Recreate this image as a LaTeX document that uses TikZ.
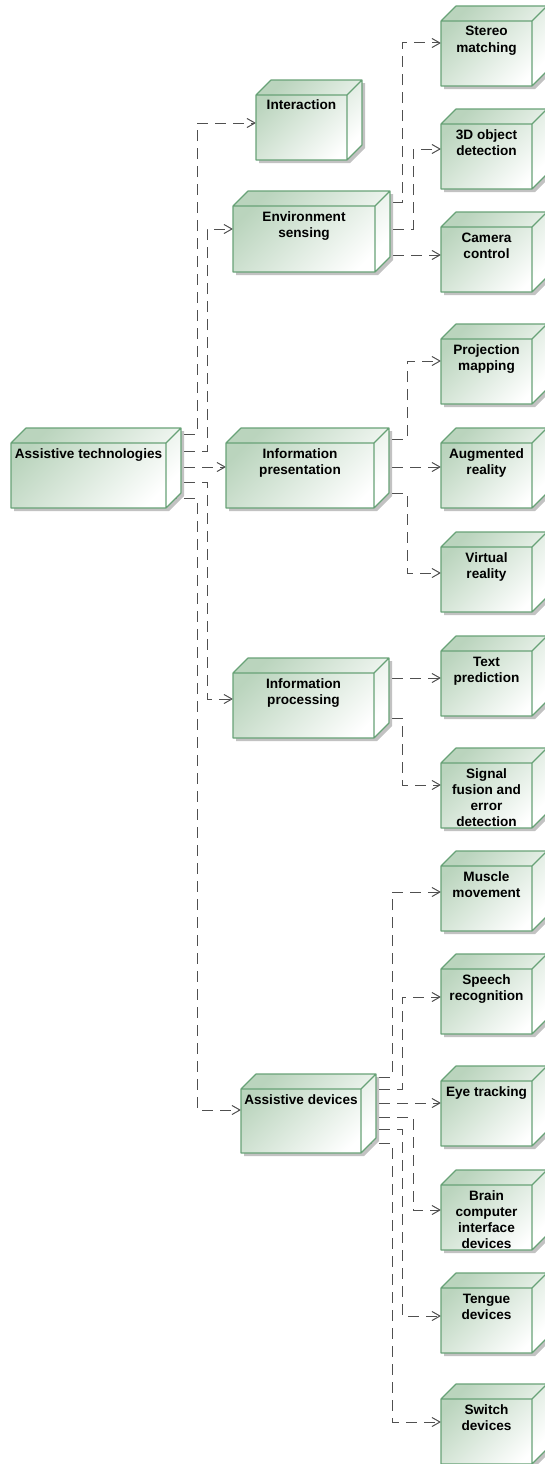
\documentclass[tikz,border=0pt]{standalone}
\usepackage{fontspec}
\setmainfont{Liberation Sans}
\usetikzlibrary{arrows.meta}

\definecolor{edgegreen}{HTML}{68A277}
\definecolor{fillgreen}{HTML}{BAD4BD}
\definecolor{linegray}{HTML}{505050}
\definecolor{shadowgray}{HTML}{A8A8A8}

\pgfdeclarelayer{bg}
\pgfsetlayers{bg,main}

\tikzset{
  conn/.style={draw=linegray, line width=1pt, dash pattern=on 11pt off 7pt,
    -{Straight Barb[length=8pt,width=9pt,line width=1pt]}},
  body/.style={top color=fillgreen, bottom color=white, shading angle=45},
  edge/.style={draw=edgegreen, line width=1.1pt, line join=round},
  boxshadow/.style={fill=shadowgray, opacity=0.7},
  front/.style={inner sep=0pt, outer sep=0pt, draw=none},
  nodetext/.style={font=\fontsize{13.6}{16.3}\selectfont\bfseries,
    anchor=base, inner sep=0pt},
}

% 3D box: name, front-left x, front-top y, front-right x, front-bottom y, label
\newcommand\threedbox[6]{%
  \pgfmathsetmacro\bxa{#2+15}%
  \pgfmathsetmacro\bxb{#4+15}%
  \pgfmathsetmacro\bya{#3-15}%
  \pgfmathsetmacro\byb{#5-15}%
  \pgfmathsetmacro\bw{#4-#2}%
  \pgfmathsetmacro\bh{#5-#3}%
  \pgfmathsetmacro\bmx{(#2+#4)/2}%
  \pgfmathsetmacro\bmy{(#3+#5)/2}%
  \pgfmathsetmacro\bty{#3+15}%
  \fill[boxshadow, xshift=3pt, yshift=-3pt] (#2,#3) -- (\bxa,\bya) -- (\bxb,\bya)
    -- (\bxb,\byb) -- (#4,#5) -- (#2,#5) -- cycle;
  \shade[body] (#2,#3) -- (\bxa,\bya) -- (\bxb,\bya) -- (\bxb,\byb) -- (#4,#5)
    -- (#2,#5) -- cycle;
  \draw[edge] (#2,#3) -- (\bxa,\bya) -- (\bxb,\bya) -- (\bxb,\byb) -- (#4,#5)
    -- (#2,#5) -- cycle
    (#2,#3) -- (#4,#3) -- (\bxb,\bya) (#4,#3) -- (#4,#5);
  \node[front, minimum width=\bw pt, minimum height=\bh pt] (#1) at (\bmx,\bmy) {};
  \node[nodetext] at (\bmx,\bty) {\begin{tabular}[t]{@{}c@{}}#6\end{tabular}};
}

\begin{document}
\begin{tikzpicture}[x=1pt, y=-1pt]
\useasboundingbox (0,0) rectangle (544,1464);

% root and first level
\threedbox{root}{11}{443}{166}{508}{Assistive technologies}
\threedbox{inter}{256}{95}{347}{160}{Interaction}
\threedbox{env}{233}{206}{375}{272}{Environment\\sensing}
\threedbox{ipres}{226}{443}{374}{508}{Information\\presentation}
\threedbox{iproc}{233}{673}{374}{738}{Information\\processing}
\threedbox{adev}{241}{1089}{361}{1153}{Assistive devices}

% leaves
\threedbox{stereo}{441}{21}{532}{86}{Stereo\\matching}
\threedbox{objdet}{441}{124}{532}{189}{3D object\\detection}
\threedbox{camera}{441}{227}{532}{292}{Camera\\control}
\threedbox{proj}{441}{339}{532}{404}{Projection\\mapping}
\threedbox{ar}{441}{443}{532}{508}{Augmented\\reality}
\threedbox{vr}{441}{547}{532}{612}{Virtual\\reality}
\threedbox{textpred}{441}{651}{532}{716}{Text\\prediction}
\threedbox{fusion}{441}{763}{532}{828}{Signal\\fusion and\\error\\detection}
\threedbox{muscle}{441}{866}{532}{931}{Muscle\\movement}
\threedbox{speech}{441}{969}{532}{1034}{Speech\\recognition}
\threedbox{eye}{441}{1081}{532}{1146}{Eye tracking}
\threedbox{brain}{441}{1185}{532}{1250}{Brain\\computer\\interface\\devices}
\threedbox{tongue}{441}{1288}{532}{1353}{Tengue\\devices}
\threedbox{switch}{441}{1399}{532}{1464}{Switch\\devices}

\begin{pgfonlayer}{bg}
% from the root
\draw[conn] (root.east |- 0,434) -| (197,123) -- (inter.west |- 0,123);
\draw[conn] (root.east |- 0,451) -| (207,229) -- (env.west |- 0,229);
\draw[conn] (root.east |- 0,467) -- (ipres.west |- 0,467);
\draw[conn] (root.east |- 0,482) -| (207,699) -- (iproc.west |- 0,699);
\draw[conn] (root.east |- 0,498) -| (197,1110) -- (adev.west |- 0,1110);

% environment sensing
\draw[conn] (env.east |- 0,202) -| (402,43) -- (stereo.west |- 0,43);
\draw[conn] (env.east |- 0,229) -| (413,149) -- (objdet.west |- 0,149);
\draw[conn] (env.east |- 0,255) -- (camera.west |- 0,255);

% information presentation
\draw[conn] (ipres.east |- 0,439) -| (407,361) -- (proj.west |- 0,361);
\draw[conn] (ipres.east |- 0,467) -- (ar.west |- 0,467);
\draw[conn] (ipres.east |- 0,493) -| (407,573) -- (vr.west |- 0,573);

% information processing
\draw[conn] (iproc.east |- 0,678) -- (textpred.west |- 0,678);
\draw[conn] (iproc.east |- 0,718) -| (402,785) -- (fusion.west |- 0,785);

% assistive devices
\draw[conn] (adev.east |- 0,1077) -| (392,892) -- (muscle.west |- 0,892);
\draw[conn] (adev.east |- 0,1089) -| (402,997) -- (speech.west |- 0,997);
\draw[conn] (adev.east |- 0,1103) -- (eye.west |- 0,1103);
\draw[conn] (adev.east |- 0,1117) -| (413,1210) -- (brain.west |- 0,1210);
\draw[conn] (adev.east |- 0,1129) -| (402,1316) -- (tongue.west |- 0,1316);
\draw[conn] (adev.east |- 0,1143) -| (392,1422) -- (switch.west |- 0,1422);
\end{pgfonlayer}
\end{tikzpicture}
\end{document}
